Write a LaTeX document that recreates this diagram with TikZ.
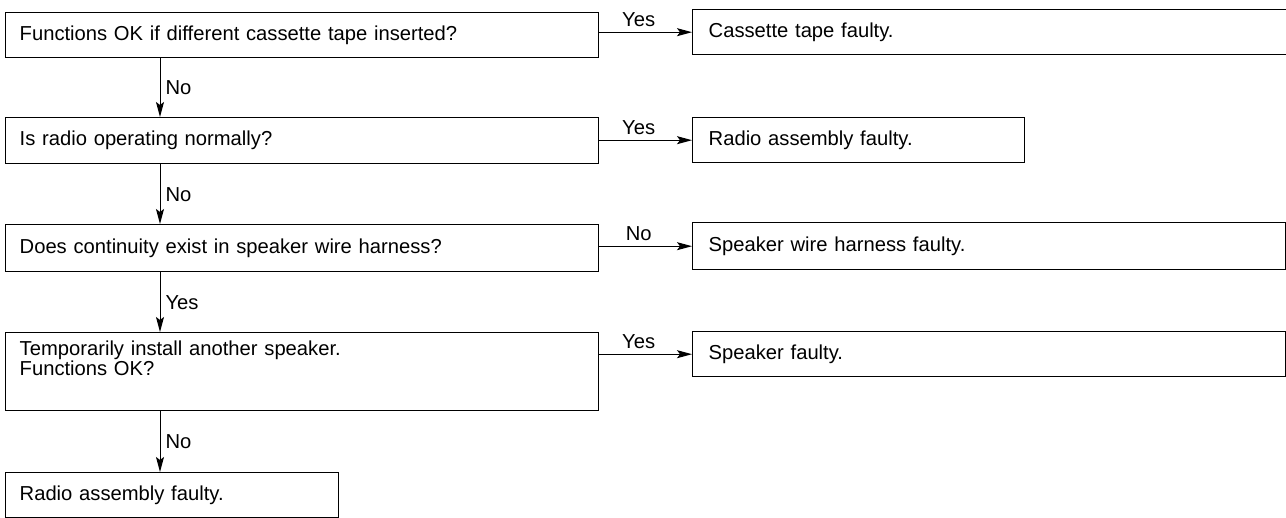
\documentclass[tikz,border=0pt]{standalone}
\usepackage{fontspec}
\setmainfont{Liberation Sans}
\usetikzlibrary{arrows.meta}
\tikzset{
  box/.style={draw, line width=1.4pt, rectangle, anchor=north west,
    inner xsep=14pt, inner ysep=0pt, align=left,
    font=\fontsize{20.2}{20}\selectfont},
  arr/.style={-{Stealth[length=15pt,width=8pt,inset=3pt]}, line width=1pt},
  lbl/.style={font=\fontsize{20.2}{20}\selectfont, inner sep=5pt}
}
\begin{document}
\begin{tikzpicture}[x=1pt,y=-1pt]
  \useasboundingbox (0,0) rectangle (1286,518);

  % questions on the left
  \node[box, text width=565pt, minimum height=45pt] (q1) at (5,12) {Functions OK if different cassette tape inserted?};
  \node[box, text width=565pt, minimum height=46pt] (q2) at (5,117) {Is radio operating normally?};
  \node[box, text width=565pt, minimum height=47pt] (q3) at (5,224) {Does continuity exist in speaker wire harness?};
  \node[box, text width=565pt, minimum height=78pt, text height=23pt, text depth=55pt] (q4) at (5,332)
    {Temporarily install another speaker.\\Functions OK?};
  \node[box, text width=305pt, minimum height=45pt] (r5) at (5,472) {Radio assembly faulty.};

  % results on the right
  \node[box, text width=565pt, minimum height=45pt, inner xsep=16pt] (r1) at (692,9) {Cassette tape faulty.};
  \node[box, text width=300pt, minimum height=45pt, inner xsep=16pt] (r2) at (692,117) {Radio assembly faulty.};
  \node[box, text width=561pt, minimum height=47pt, inner xsep=16pt] (r3) at (692,222) {Speaker wire harness faulty.};
  \node[box, text width=561pt, minimum height=45pt, inner xsep=16pt] (r4) at (692,331) {Speaker faulty.};

  % side branches
  \draw[arr] (q1.east |- r1.west) -- node[lbl, above, xshift=-7pt] {Yes} (r1.west);
  \draw[arr] (q2.east |- r2.west) -- node[lbl, above, xshift=-7pt] {Yes} (r2.west);
  \draw[arr] (q3.east |- r3.west) -- node[lbl, above, xshift=-7pt] {No} (r3.west);
  \draw[arr] (q4.east |- r4.west) -- node[lbl, above, xshift=-7pt] {Yes} (r4.west);

  % main line down
  \draw[arr] ([xshift=155pt]q1.south west) -- node[lbl, right] {No} ([xshift=155pt]q2.north west);
  \draw[arr] ([xshift=155pt]q2.south west) -- node[lbl, right] {No} ([xshift=155pt]q3.north west);
  \draw[arr] ([xshift=155pt]q3.south west) -- node[lbl, right] {Yes} ([xshift=155pt]q4.north west);
  \draw[arr] ([xshift=155pt]q4.south west) -- node[lbl, right] {No} ([xshift=155pt]r5.north west);
\end{tikzpicture}
\end{document}
